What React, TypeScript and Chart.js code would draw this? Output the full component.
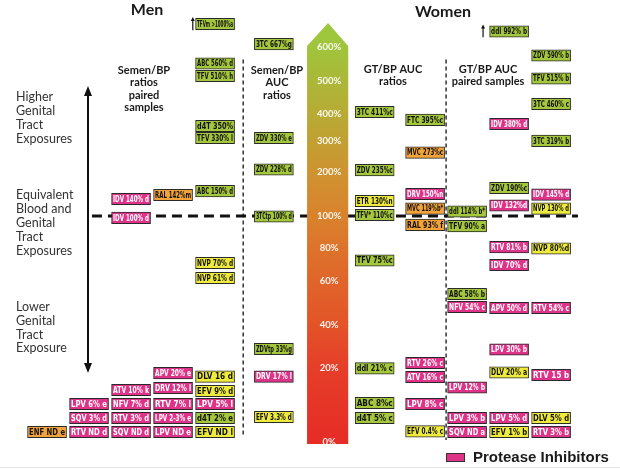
import React, { useEffect, useRef } from "react";
import { Chart, registerables } from "chart.js";

Chart.register(...registerables);

// Kind: N = NRTI (green), Y = NNRTI (yellow), P = protease inhibitor (pink), O = other (orange)
type Kind = "N" | "Y" | "P" | "O";
// [label, drug class, column slot, row level]
type Box = [string, Kind, number, number];

const MEN_PAIRED: Box[] = [
  ["TFVm >1000%a", "N", 4, 29.14],
  ["ABC 560% d", "N", 4, 26.32],
  ["TFV 510% h", "N", 4, 25.43],
  ["d4T 350%", "N", 4, 21.86],
  ["TFV 330% l", "N", 4, 21.0],
  ["IDV 140% d", "P", 2, 16.64],
  ["RAL 142%m", "O", 3, 16.93],
  ["ABC 150% d", "N", 4, 17.21],
  ["IDV 100% d", "P", 2, 15.29],
  ["NVP 70% d", "Y", 4, 12.07],
  ["NVP 61% d", "Y", 4, 11.0],
  ["APV 20% e", "P", 3, 4.21],
  ["DLV 16 d", "Y", 4, 3.96],
  ["ATV 10% k", "P", 2, 3.0],
  ["DRV 12% l", "P", 3, 3.14],
  ["EFV 9% d", "Y", 4, 2.93],
  ["LPV 6% e", "P", 1, 2],
  ["NFV 7% d", "P", 2, 2],
  ["RTV 7% l", "P", 3, 2],
  ["LPV 5% l", "P", 4, 2],
  ["SQV 3% d", "P", 1, 1],
  ["RTV 3% d", "P", 2, 1],
  ["LPV 2-3% e", "P", 3, 1],
  ["d4T 2% e", "N", 4, 1],
  ["ENF ND e", "O", 0, 0],
  ["RTV ND d", "P", 1, 0],
  ["SQV ND d", "P", 2, 0],
  ["LPV ND e", "P", 3, 0],
  ["EFV ND l", "Y", 4, 0],
];

const MEN_AUC: Box[] = [
  ["3TC 667%g", "N", 5.4, 27.71],
  ["ZDV 330% e", "N", 5.4, 21.0],
  ["ZDV 228% d", "N", 5.4, 18.75],
  ["3TCtp 100% d", "N", 5.4, 15.39],
  ["ZDVtp 33%g", "N", 5.4, 5.93],
  ["DRV 17% l", "P", 5.4, 3.96],
  ["EFV 3.3% d", "Y", 5.4, 1.07],
];

const WOMEN_AUC: Box[] = [
  ["3TC 411%c", "N", 7.8, 22.86],
  ["ZDV 235%c", "N", 7.8, 18.71],
  ["ETR 130%n", "Y", 7.8, 16.5],
  ["TFV* 110%c", "N", 7.8, 15.5],
  ["TFV 75%c", "N", 7.8, 12.25],
  ["ddI 21% c", "N", 7.8, 4.54],
  ["ABC 8%c", "N", 7.8, 2.07],
  ["d4T 5% c", "N", 7.8, 1],
  ["FTC 395%c", "N", 9, 22.29],
  ["MVC 273%c", "O", 9, 19.96],
  ["DRV 150%n", "P", 9, 17.0],
  ["MVC 119%b*", "O", 9, 15.96],
  ["RAL 93% f", "O", 9, 14.79],
  ["RTV 26% c", "P", 9, 4.93],
  ["ATV 16% c", "P", 9, 3.93],
  ["LPV 8% c", "P", 9, 2],
  ["EFV 0.4% c", "Y", 9, 0.04],
];

const WOMEN_PAIRED: Box[] = [
  ["ddI 114% b*", "N", 10, 15.75],
  ["TFV 90% a", "N", 10, 14.71],
  ["ABC 58% b", "N", 10, 9.86],
  ["NFV 54% c", "P", 10, 8.93],
  ["LPV 12% b", "P", 10, 3.18],
  ["LPV 3% b", "P", 10, 1],
  ["SQV ND a", "P", 10, 0],
  ["ddI 992% b", "N", 11, 28.61],
  ["IDV 380% d", "P", 11, 22.0],
  ["ZDV 190%c", "N", 11, 17.43],
  ["IDV 132%d", "P", 11, 16.18],
  ["RTV 81% b", "P", 11, 13.21],
  ["IDV 70% d", "P", 11, 11.93],
  ["APV 50% d", "P", 11, 8.86],
  ["LPV 30% b", "P", 11, 5.89],
  ["DLV 20% a", "Y", 11, 4.25],
  ["LPV 5% d", "P", 11, 1],
  ["EFV 1% b", "Y", 11, 0],
  ["ZDV 590% b", "N", 12, 26.89],
  ["TFV 515% b", "N", 12, 25.25],
  ["3TC 460% c", "N", 12, 23.43],
  ["3TC 319% b", "N", 12, 20.79],
  ["IDV 145% d", "P", 12, 16.96],
  ["NVP 130% d", "Y", 12, 15.96],
  ["NVP 80%d", "Y", 12, 13.11],
  ["RTV 54% c", "P", 12, 8.86],
  ["RTV 15 b", "P", 12, 4.07],
  ["DLV 5% d", "Y", 12, 1],
  ["RTV 3% b", "P", 12, 0],
];

const ARROW_TICK_LABELS = ["600%", "500%", "400%", "300%", "200%", "100%", "80%", "60%", "40%", "20%", "0%"];
const ARROW_TICK_LEVELS = [27.5, 25.07, 22.71, 20.79, 18.57, 15.43, 13.14, 10.79, 7.64, 4.57, -0.71];

const KIND_COLORS: Record<Kind, string> = {
  N: "#a5c73b",
  Y: "#efeb3d",
  P: "#de3388",
  O: "#f2a43a",
};

const ALL: Box[] = [...MEN_PAIRED, ...MEN_AUC, ...WOMEN_AUC, ...WOMEN_PAIRED];

const SANS = "Lato, 'Open Sans', 'DejaVu Sans', sans-serif";

const decorPlugin = {
  id: "decor",
  beforeDatasetsDraw(chart: any) {
    const { ctx } = chart;
    const xs = chart.scales.x;
    const ys = chart.scales.y;
    const X = (v: number) => xs.getPixelForValue(v);
    const Y = (v: number) => ys.getPixelForValue(v);
    ctx.save();

    // faint bottom rule
    ctx.strokeStyle = "#e4e4e4";
    ctx.lineWidth = 1;
    ctx.beginPath();
    ctx.moveTo(0, 467.5);
    ctx.lineTo(620, 467.5);
    ctx.stroke();

    // vertical dashed separators
    ctx.strokeStyle = "#333";
    ctx.lineWidth = 1.5;
    ctx.setLineDash([4, 3]);
    ctx.beginPath();
    ctx.moveTo(X(4.67), Y(26.6));
    ctx.lineTo(X(4.67), Y(-0.36));
    ctx.moveTo(X(9.5), Y(26.6));
    ctx.lineTo(X(9.5), Y(-0.57));
    ctx.stroke();

    // horizontal dashed 100% line
    const y100 = Y(ARROW_TICK_LEVELS[5]);
    ctx.strokeStyle = "#111";
    ctx.lineWidth = 3;
    ctx.setLineDash([10, 6]);
    ctx.beginPath();
    ctx.moveTo(X(1.07), y100);
    ctx.lineTo(X(12.64), y100);
    ctx.stroke();
    ctx.setLineDash([]);

    // big gradient arrow
    const left = X(6.19), right = X(7.17), mid = X(6.69);
    const tip = Y(29.21), shoulder = Y(27.57), bottom = Y(-0.86);
    const g = ctx.createLinearGradient(0, tip, 0, bottom);
    g.addColorStop(0, "#9cc83d");
    g.addColorStop(0.06, "#a0c43c");
    g.addColorStop(0.22, "#b8aa35");
    g.addColorStop(0.36, "#cf9230");
    g.addColorStop(0.46, "#d9822d");
    g.addColorStop(0.61, "#e0652a");
    g.addColorStop(0.71, "#e35528");
    g.addColorStop(0.82, "#e53e29");
    g.addColorStop(1, "#e62c26");
    ctx.fillStyle = g;
    ctx.beginPath();
    ctx.moveTo(mid, tip);
    ctx.lineTo(right, shoulder);
    ctx.lineTo(right, bottom);
    ctx.lineTo(left, bottom);
    ctx.lineTo(left, shoulder);
    ctx.closePath();
    ctx.fill();

    ctx.fillStyle = "rgba(255,255,255,0.93)";
    ctx.font = `bold 9.5px ${SANS}`;
    ctx.textAlign = "center";
    ctx.textBaseline = "middle";
    ARROW_TICK_LABELS.forEach((t, i) => {
      ctx.fillText(t, mid + 1, Y(ARROW_TICK_LEVELS[i]));
    });

    // titles
    ctx.fillStyle = "#1a1a1a";
    ctx.font = `bold 16px ${SANS}`;
    ctx.fillText("Men", 147, 10);
    ctx.fillText("Women", 443, 12);

    ctx.font = `bold 11px ${SANS}`;
    const block = (lines: string[], cx: number, y0: number, dy: number) =>
      lines.forEach((l, i) => ctx.fillText(l, cx, y0 + i * dy));
    block(["Semen/BP", "ratios", "paired", "samples"], 144, 70, 12.6);
    block(["Semen/BP", "AUC", "ratios"], 277, 70, 12.6);
    block(["GT/BP AUC", "ratios"], 393, 69, 12.3);
    block(["GT/BP AUC", "paired samples"], 488, 69, 12.3);

    // left annotations
    ctx.fillStyle = "#333";
    ctx.font = `12.5px ${SANS}`;
    ctx.textAlign = "left";
    block(["Higher", "Genital", "Tract", "Exposures"], 16, 97, 14);
    block(["Equivalent", "Blood and", "Genital", "Tract", "Exposures"], 16, 195, 14);
    block(["Lower", "Genital", "Tract", "Exposure"], 16, 307, 13.8);

    // double-headed arrow
    ctx.strokeStyle = "#111";
    ctx.fillStyle = "#111";
    ctx.lineWidth = 2;
    const ax = 88;
    ctx.beginPath();
    ctx.moveTo(ax, 94);
    ctx.lineTo(ax, 365);
    ctx.stroke();
    ctx.beginPath();
    ctx.moveTo(ax, 86);
    ctx.lineTo(ax + 4, 96);
    ctx.lineTo(ax - 4, 96);
    ctx.closePath();
    ctx.fill();
    ctx.beginPath();
    ctx.moveTo(ax, 373);
    ctx.lineTo(ax + 4, 363);
    ctx.lineTo(ax - 4, 363);
    ctx.closePath();
    ctx.fill();

    // small up arrows beside off-scale values
    const upArrow = (x: number, y1: number, y2: number) => {
      ctx.lineWidth = 1.2;
      ctx.beginPath();
      ctx.moveTo(x, y1);
      ctx.lineTo(x, y2 + 3);
      ctx.stroke();
      ctx.beginPath();
      ctx.moveTo(x, y2);
      ctx.lineTo(x + 2, y2 + 4);
      ctx.lineTo(x - 2, y2 + 4);
      ctx.closePath();
      ctx.fill();
    };
    upArrow(X(3.47), Y(28.7), Y(29.65));
    upArrow(X(10.38), Y(28.2), Y(29.1));

    // legend
    ctx.fillStyle = KIND_COLORS.P;
    ctx.fillRect(446, 453, 19, 9);
    ctx.strokeStyle = "#333";
    ctx.lineWidth = 1;
    ctx.strokeRect(446.5, 453.5, 18, 8);
    ctx.fillStyle = "#1a1a1a";
    ctx.font = "bold 15px 'Liberation Sans', Arial, sans-serif";
    ctx.textAlign = "left";
    ctx.textBaseline = "middle";
    ctx.fillText("Protease Inhibitors", 473, 458);

    ctx.restore();
  },
  afterDatasetsDraw(chart: any) {
    const { ctx } = chart;
    const meta = chart.getDatasetMeta(0);
    ctx.save();
    ctx.textAlign = "center";
    ctx.textBaseline = "middle";
    meta.data.forEach((el: any, i: number) => {
      const b = ALL[i];
      const { x, y, base, width } = el.getProps(["x", "y", "base", "width"], true);
      const cy = (y + base) / 2;
      ctx.font = "bold 8.5px 'Liberation Sans Narrow', 'DejaVu Sans Condensed', sans-serif";
      const w = ctx.measureText(b[0]).width;
      const maxW = width - 3;
      ctx.save();
      ctx.translate(x, cy + 0.5);
      if (w > maxW) ctx.scale(maxW / w, 1);
      ctx.fillStyle = b[1] === "P" ? "#ffffff" : "#111111";
      ctx.fillText(b[0], 0, 0);
      ctx.restore();
    });
    ctx.restore();
  },
};

export default function App() {
  const ref = useRef<HTMLCanvasElement | null>(null);
  useEffect(() => {
    if (!ref.current) return;
    const chart = new Chart(ref.current, {
      type: "bar",
      data: {
        datasets: [
          {
            data: ALL.map((b) => ({ x: b[2], y: [b[3] - 0.41, b[3] + 0.41] })) as any,
            backgroundColor: ALL.map((b) => KIND_COLORS[b[1]]),
            borderColor: "#2a2a2a",
            borderWidth: 1,
            borderSkipped: false,
            barThickness: 39,
            grouped: false,
          } as any,
        ],
      },
      options: {
        responsive: false,
        animation: false,
        devicePixelRatio: 1,
        layout: { padding: 0 },
        plugins: {
          legend: { display: false },
          tooltip: { enabled: false },
          title: { display: false },
        },
        scales: {
          x: { type: "linear", min: -1.12, max: 13.64, display: false, offset: false },
          y: { type: "linear", min: -2.714, max: 30.857, display: false },
        },
      },
      plugins: [decorPlugin],
    });
    return () => chart.destroy();
  }, []);
  return (
    <div style={{ position: "absolute", left: 0, top: 0, width: 620, height: 470, background: "#fff" }}>
      <canvas ref={ref} width={620} height={470} />
    </div>
  );
}
